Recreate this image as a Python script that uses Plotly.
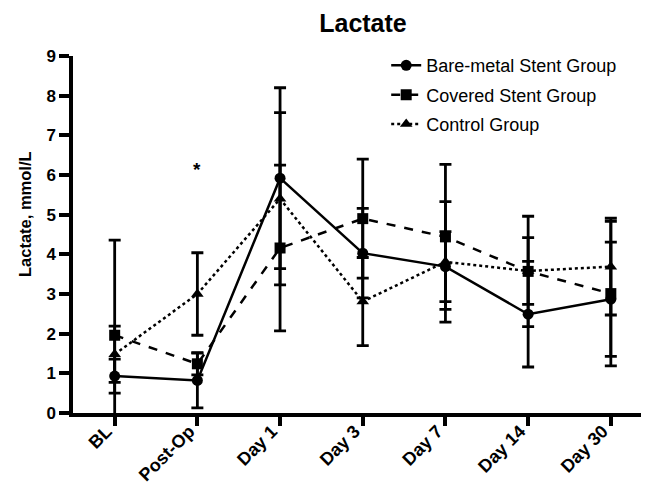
import plotly.graph_objects as go

categories = ["BL", "Post-Op", "Day 1", "Day 3", "Day 7", "Day 14", "Day 30"]

bare_mean = [0.93, 0.82, 5.92, 4.03, 3.69, 2.49, 2.87]
bare_err = [0.43, 0.69, 2.28, 1.13, 0.88, 1.33, 1.44]

covered_mean = [1.96, 1.24, 4.16, 4.90, 4.44, 3.57, 3.01]
covered_err = [2.40, 0.28, 2.09, 1.50, 1.83, 1.39, 1.82]

control_mean = [1.48, 3.00, 5.40, 2.81, 3.81, 3.58, 3.69]
control_err = [0.71, 1.04, 2.17, 1.11, 1.52, 0.84, 1.22]

y_ticks = [0, 1, 2, 3, 4, 5, 6, 7, 8, 9]

FONT = "Arial, Liberation Sans, Helvetica, sans-serif"

fig = go.Figure()

series = [
    ("Bare-metal Stent Group", bare_mean, bare_err, "solid", "circle"),
    ("Covered Stent Group", covered_mean, covered_err, "dash", "square"),
    ("Control Group", control_mean, control_err, "dot", "triangle-up"),
]

for i, (name, mean, err, dash, sym) in enumerate(series):
    fig.add_trace(go.Scatter(
        x=categories, y=mean, name=name, mode="lines+markers",
        legendgroup="g%d" % i,
        line=dict(color="black", width=2.5, dash=dash),
        marker=dict(symbol=sym, size=11, color="black"),
        error_y=dict(type="data", array=err, visible=True, color="black",
                     thickness=2.8, width=6),
    ))

fig.add_annotation(x="Post-Op", y=6.15, text="<b>*</b>", showarrow=False,
                   font=dict(family=FONT, size=19, color="black"))

# y-axis title placed as rotated text
fig.add_annotation(xref="paper", yref="paper", x=(17 - 65) / 580, y=(405 - 206) / 357,
                   xanchor="center", yanchor="middle", textangle=-90,
                   text="<b>Lactate, mmol/L</b>", showarrow=False,
                   font=dict(family=FONT, size=16.5, color="black"))

fig.update_layout(
    width=649, height=484,
    margin=dict(l=65, r=4, t=48, b=79),
    plot_bgcolor="white", paper_bgcolor="white",
    title=dict(text="<b>Lactate</b>", x=355 / 649, xanchor="center",
               y=1 - 15 / 484, yanchor="middle",
               font=dict(family=FONT, size=25, color="black")),
    font=dict(family=FONT, color="black"),
    showlegend=True,
    legend=dict(x=0.540, y=1.025, xanchor="left", yanchor="top",
                font=dict(family=FONT, size=18, color="black"),
                bgcolor="rgba(0,0,0,0)", traceorder="grouped",
                tracegroupgap=3),
)

fig.update_xaxes(
    type="category", range=[-0.504, 6.51], automargin=False,
    showline=True, linecolor="black", linewidth=3.5,
    ticks="outside", ticklen=9, tickwidth=3.5, tickcolor="black",
    tickangle=-45, showgrid=False, zeroline=False,
    ticklabelstandoff=-12, ticklabelshift=-8,
    tickfont=dict(family=FONT, size=18, color="black"),
    ticktext=["<b>%s</b>" % c for c in categories], tickvals=categories,
)

fig.update_yaxes(
    range=[0, 9], tickvals=y_ticks, ticktext=["<b>%d</b>" % t for t in y_ticks],
    automargin=False,
    showline=True, linecolor="black", linewidth=3.5,
    ticks="outside", ticklen=10, tickwidth=3.5, tickcolor="black",
    showgrid=False, zeroline=False,
    tickfont=dict(family=FONT, size=17, color="black"),
)

fig.write_html("out.html")
